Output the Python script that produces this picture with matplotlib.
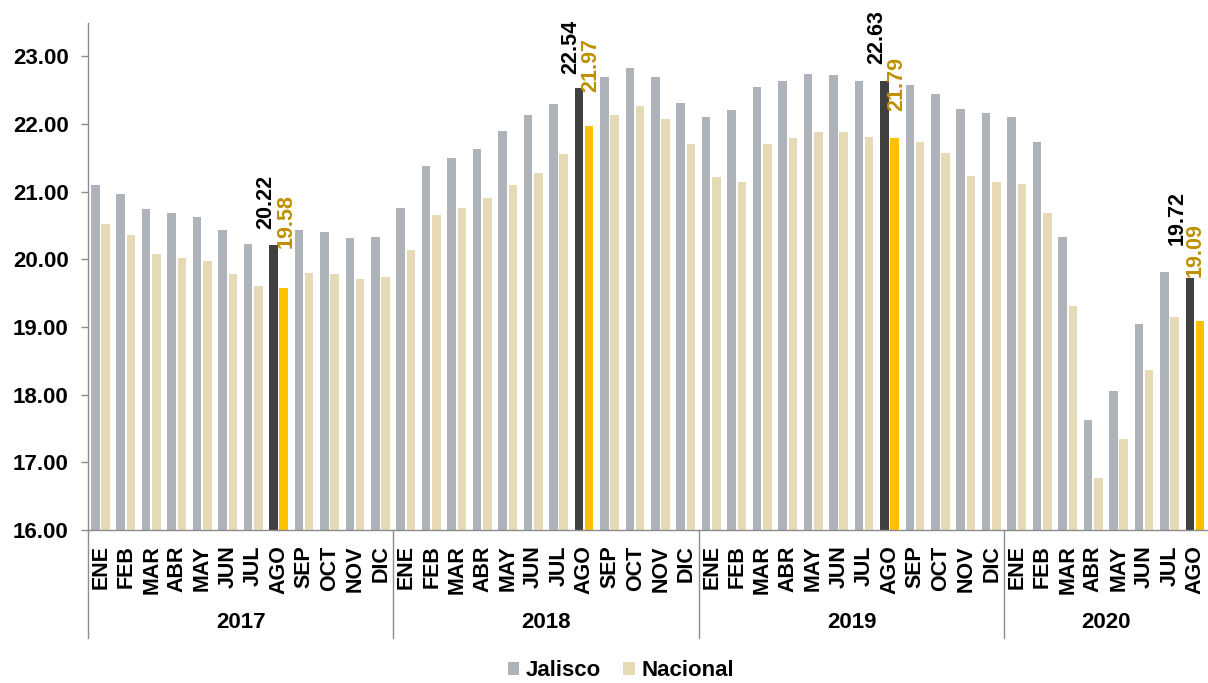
import matplotlib
matplotlib.use("Agg")
import matplotlib.pyplot as plt
from matplotlib.patches import Patch
import matplotlib.transforms as mtransforms

plt.rcParams['font.family'] = ['Liberation Sans', 'DejaVu Sans']

# ---------------- data ----------------
months_full = ["ENE", "FEB", "MAR", "ABR", "MAY", "JUN", "JUL", "AGO", "SEP", "OCT", "NOV", "DIC"]
years = ["2017", "2018", "2019", "2020"]
months_per_year = [12, 12, 12, 8]

jalisco = [
    21.10, 20.96, 20.74, 20.69, 20.62, 20.43, 20.23, 20.22, 20.44, 20.41, 20.31, 20.33,
    20.76, 21.38, 21.50, 21.63, 21.90, 22.13, 22.29, 22.54, 22.69, 22.83, 22.69, 22.31,
    22.10, 22.21, 22.55, 22.64, 22.74, 22.72, 22.64, 22.63, 22.58, 22.44, 22.23, 22.16,
    22.10, 21.74, 20.33, 17.62, 18.06, 19.04, 19.81, 19.72,
]
nacional = [
    20.53, 20.36, 20.08, 20.02, 19.97, 19.78, 19.60, 19.58, 19.80, 19.79, 19.71, 19.74,
    20.14, 20.65, 20.76, 20.91, 21.10, 21.28, 21.56, 21.97, 22.13, 22.26, 22.08, 21.70,
    21.22, 21.14, 21.70, 21.80, 21.89, 21.88, 21.81, 21.79, 21.74, 21.57, 21.23, 21.15,
    21.11, 20.69, 19.31, 16.77, 17.34, 18.36, 19.15, 19.09,
]
month_labels = []
for n in months_per_year:
    month_labels += months_full[:n]

highlight_month = "AGO"
yticks = [16, 17, 18, 19, 20, 21, 22, 23]

# ---------------- style ----------------
c_jal = "#ADB3B9"
c_nac = "#E6D9B6"
c_jal_hi = "#404040"
c_nac_hi = "#FFC000"
c_nac_txt = "#BF9000"
c_axis = "#8C8C8C"

# label offsets in pixels (x, y) per highlighted month
j_xoff = [-8, -8, -8, -13]
j_off = [16, 14, 17, 33]
n_xoff = [2, 2, 2, -4.5]
n_off = [40, 34, 27, 44]

fig = plt.figure(figsize=(12.08, 6.83), dpi=100)
ax = fig.add_axes([88 / 1208, 1 - 530 / 683, 1 - 88 / 1208, (530 - 22.6) / 683])

n = len(jalisco)
xs = list(range(n))
bw = 0.334
dj, dn = -0.215, 0.19

jc = [c_jal_hi if m == highlight_month else c_jal for m in month_labels]
nc = [c_nac_hi if m == highlight_month else c_nac for m in month_labels]

ax.bar([x + dj for x in xs], jalisco, width=bw, color=jc, zorder=2)
ax.bar([x + dn for x in xs], nacional, width=bw, color=nc, zorder=2)

ax.set_xlim(-0.5, n - 0.5)
ax.set_ylim(16, 23.5)
ax.set_yticks(yticks)
ax.set_yticklabels([f"{v:.2f}" for v in yticks], fontsize=16, fontweight="bold")
ax.tick_params(axis="y", length=5, color=c_axis, pad=9, width=1)

ax.set_xticks(xs)
ax.set_xticklabels(month_labels, rotation=90, fontsize=15.5, fontweight="bold")
ax.tick_params(axis="x", length=0, pad=11)

for s in ["top", "right"]:
    ax.spines[s].set_visible(False)
for s in ["left", "bottom"]:
    ax.spines[s].set_color(c_axis)
    ax.spines[s].set_linewidth(1)

# data labels on highlighted month
px2pt = 0.72
k = 0
for i, m in enumerate(month_labels):
    if m == highlight_month:
        ax.annotate(f"{jalisco[i]:.2f}", (i + dj, jalisco[i]), xytext=(j_xoff[k] * px2pt, j_off[k] * px2pt),
                    textcoords="offset points", rotation=90, ha="center", va="bottom",
                    fontsize=15.5, fontweight="bold", color="black", annotation_clip=False)
        ax.annotate(f"{nacional[i]:.2f}", (i + dn, nacional[i]), xytext=(n_xoff[k] * px2pt, n_off[k] * px2pt),
                    textcoords="offset points", rotation=90, ha="center", va="bottom",
                    fontsize=15.5, fontweight="bold", color=c_nac_txt, annotation_clip=False)
        k += 1

# year labels and separators
trans = mtransforms.blended_transform_factory(ax.transData, ax.transAxes)
axh = 530 - 22.6
start = 0
for y, cnt in zip(years, months_per_year):
    center = start + (cnt - 1) / 2
    ax.text(center, -(623 - 530) / axh, y, transform=trans, ha="center", va="center",
            fontsize=16, fontweight="bold")
    ax.plot([start - 0.5, start - 0.5], [0, -(638 - 530) / axh], transform=trans,
            color=c_axis, lw=1, clip_on=False)
    start += cnt

handles = [Patch(facecolor=c_jal, label="Jalisco"), Patch(facecolor=c_nac, label="Nacional")]
leg = fig.legend(handles=handles, loc="center", bbox_to_anchor=(621 / 1208, 1 - 671 / 683), ncol=2,
                 frameon=False, prop={"weight": "bold", "size": 16}, handlelength=0.5,
                 handleheight=0.5, handletextpad=0.3, columnspacing=1.0)

fig.savefig("out.png", dpi=100)
